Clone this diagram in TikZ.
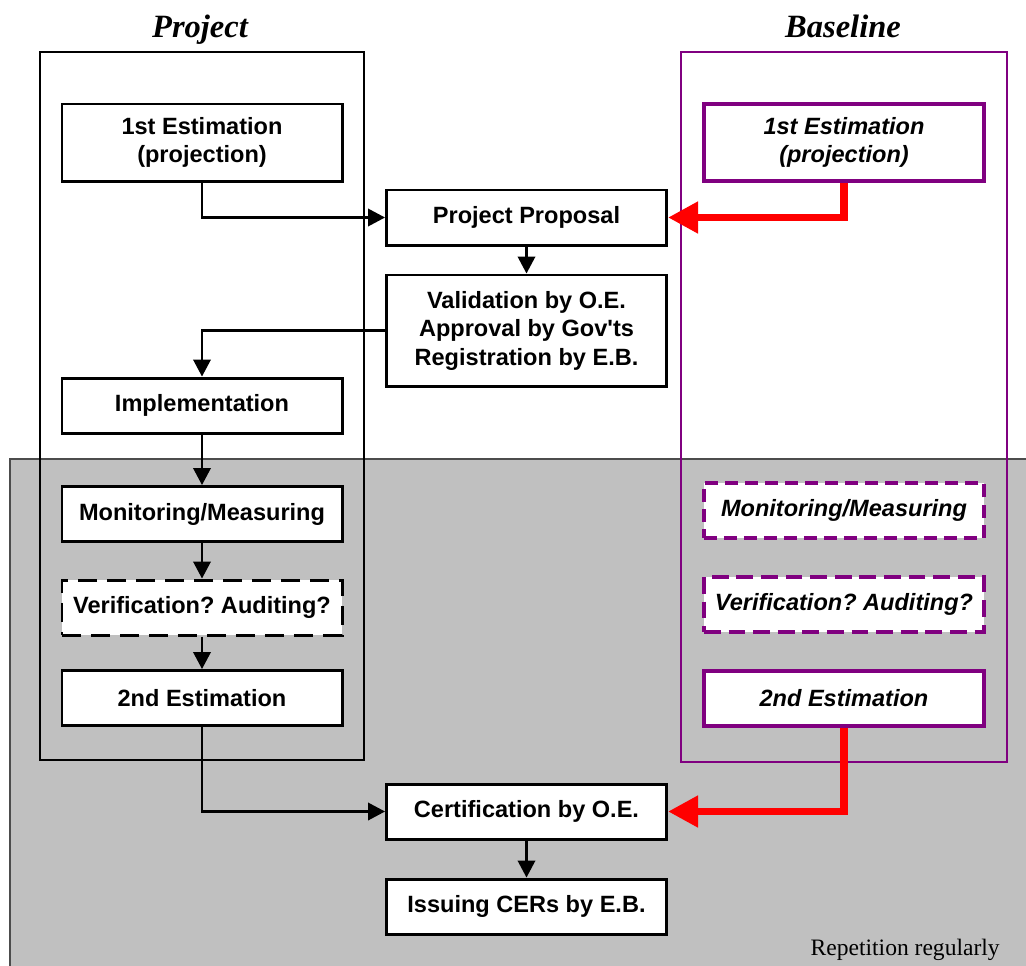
\documentclass[tikz,border=0pt]{standalone}
\usepackage{fontspec}
\setmainfont{Liberation Serif}
\setsansfont{Liberation Sans}[Ligatures=TeXOff]
\usepackage{xcolor}
\usepackage{tikz}
\usetikzlibrary{positioning,arrows.meta,calc}
\definecolor{basepurple}{HTML}{800080}
\definecolor{repgray}{HTML}{C0C0C0}
\frenchspacing

\begin{document}
\begin{tikzpicture}[x=0.2mm,y=-0.2mm,
  stepbox/.style={rectangle,draw=black,line width=1.7pt,fill=white,inner sep=0pt,align=center,
    minimum width=56mm,minimum height=11mm,font=\sffamily\bfseries\fontsize{13.4}{16.2}\selectfont},
  stepdash/.style={stepbox,dash pattern=on 11pt off 5.5pt},
  basebox/.style={stepbox,draw=basepurple,line width=2.8pt,font=\sffamily\bfseries\itshape\fontsize{13.4}{16.2}\selectfont},
  basedash/.style={basebox,dash pattern=on 7.4pt off 4pt},
  basedashthin/.style={basebox,line width=1.8pt,dash pattern=on 9.5pt off 4.5pt},
  ttl/.style={font=\bfseries\itshape\fontsize{18.5}{20}\selectfont,anchor=base},
  conn/.style={-{Triangle[length=3.4mm,width=3.5mm]},line width=1.2pt},
  redconn/.style={-{Triangle[length=6mm,width=6mm]},draw=red,line width=4.5pt}]
  \useasboundingbox (0,0) rectangle (1026,965);
  % repeated part
  \draw[fill=repgray,draw=black!70,line width=0.8pt] (10,459) rectangle (1040,980);
  \node[font=\fontsize{13.4}{15}\selectfont,anchor=base east,inner sep=0pt] (rep) at (1000,955) {Repetition regularly};
  % frames
  \draw[line width=0.85pt] (40,52) rectangle (364,760);
  \draw[draw=basepurple,line width=0.85pt] (681,52) rectangle (1007,762);
  \node[ttl] (tproj) at (200,37) {Project};
  \node[ttl] (tbase) at (843,37) {Baseline};
  % project side
  \node[stepbox,minimum height=15.4mm] (p1) at (202,142.5) {1st Estimation\\(projection)};
  \node[stepbox] (impl) at (202,405.5) {Implementation};
  \node[stepbox] (pmon) at (202,514) {Monitoring/Measuring};
  \node[stepdash] (pver) at (202,607.5) {Verification? Auditing?};
  \node[stepbox] (p2) at (202,698) {2nd Estimation};
  % baseline side
  \node[basebox,minimum height=15.4mm] (b1) at (844,142.5) {1st Estimation\\(projection)};
  \node[basedash] (bmon) at (844,510.5) {Monitoring/Measuring};
  \node[basedashthin] (bver) at (844,604.5) {Verification? Auditing?};
  \node[basebox] (b2) at (844,698.5) {2nd Estimation};
  % middle
  \node[stepbox] (prop) at (526.5,217.5) {Project Proposal};
  \node[stepbox,minimum height=22.2mm] (valid) at (526.5,330.5) {Validation by O.E.\\Approval by Gov'ts\\Registration by E.B.};
  \node[stepbox] (cert) at (526.5,811.5) {Certification by O.E.};
  \node[stepbox] (iss) at (526.5,906.5) {Issuing CERs by E.B.};
  % connectors
  \draw[conn] (p1.south) |- (prop.west);
  \draw[redconn] (b1.south) |- (prop.east);
  \draw[conn] (prop) -- (valid);
  \draw[conn] (valid.west) -| (impl.north);
  \draw[conn] (impl) -- (pmon);
  \draw[conn] (pmon) -- (pver);
  \draw[conn] (pver) -- (p2);
  \draw[conn] (p2.south) |- (cert.west);
  \draw[redconn] (b2.south) |- (cert.east);
  \draw[conn] (cert) -- (iss);
\end{tikzpicture}
\end{document}
